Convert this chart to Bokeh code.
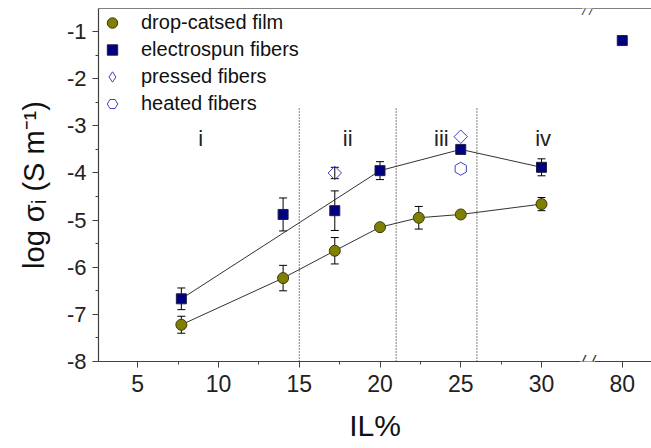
import math
from bokeh.plotting import figure
from bokeh.models import (FixedTicker, LinearAxis, Whisker, ColumnDataSource, Label,
                          Legend, LegendItem, TeeHead, Range1d)
from bokeh.embed import file_html
from bokeh.resources import INLINE
from bokeh.core.properties import value

# ---------------- data ----------------
film_il = [7.7, 14.0, 17.2, 20.0, 22.4, 25.0, 30.0]
film_log = [-7.22, -6.23, -5.65, -5.15, -4.95, -4.88, -4.66]
film_err = [0.18, 0.27, 0.28, 0.04, 0.24, 0.03, 0.14]

fiber_il = [7.7, 14.0, 17.2, 20.0, 25.0, 30.0, 80.0]
fiber_log = [-6.67, -4.88, -4.80, -3.95, -3.50, -3.88, -1.19]
fiber_err = [0.23, 0.35, 0.42, 0.19, 0.03, 0.18, 0.0]
fiber_guide_idx = [0, 3, 4, 5]

pressed_il = [17.2, 25.0]
pressed_log = [-4.00, -3.23]
pressed_err = [0.12, 0.0]

heated_il = [25.0]
heated_log = [-3.91]

region_bounds = [15, 21, 26]
region_top = -2.6
region_names = ["i", "ii", "iii", "iv"]
region_name_x = [8.9, 18.0, 23.8, 30.1]
region_name_y = -3.27

x_ticks = [5, 10, 15, 20, 25, 30, 80]
x_minor = [7.5, 12.5, 17.5, 22.5, 27.5]
y_ticks = [-8, -7, -6, -5, -4, -3, -2, -1]
y_minor = [-7.5, -6.5, -5.5, -4.5, -3.5, -2.5, -1.5]

# axis break: values above 30 are shown after the break, 80 sits at 35
BREAK_AFTER = 30
BREAK_VALUE = 80
BREAK_POS = 35
BREAK_MARK = 32.85


def xmap(v):
    return v if v <= BREAK_AFTER else BREAK_POS + (v - BREAK_VALUE)


FONT = "Liberation Sans"
AX = "#404040"
OPEN_BLUE = "#4040c8"

p = figure(width=651, height=448, x_range=Range1d(2.57, 36.81), y_range=Range1d(-8, -0.51),
           output_backend="svg", toolbar_location=None,
           min_border_left=98, min_border_right=0, min_border_top=8, min_border_bottom=87)
p.xgrid.visible = False
p.ygrid.visible = False
p.outline_line_color = None
p.background_fill_color = "white"
p.border_fill_color = "white"

# axes
xa = p.xaxis[0]
xa.ticker = FixedTicker(ticks=[xmap(t) for t in x_ticks], minor_ticks=x_minor)
xa.major_label_overrides = {xmap(t): str(t) for t in x_ticks}
ya = p.yaxis[0]
ya.ticker = FixedTicker(ticks=y_ticks, minor_ticks=y_minor)
ya.major_label_overrides = {t: str(t) for t in y_ticks}
for a in (xa, ya):
    a.axis_line_color = AX
    a.axis_line_width = 1.2
    a.major_tick_line_color = AX
    a.minor_tick_line_color = AX
    a.major_tick_in = 0
    a.major_tick_out = 6
    a.minor_tick_in = 0
    a.minor_tick_out = 3
    a.major_label_text_font = FONT
    a.major_label_text_color = "#222222"
    a.axis_label_text_font = FONT
    a.axis_label_text_font_style = "normal"
    a.axis_label_text_color = "#111111"
xa.major_label_text_font_size = "23px"
ya.major_label_text_font_size = "22px"
xa.major_label_standoff = 7
ya.major_label_standoff = 6
xa.axis_label = "IL%"
xa.axis_label_text_font_size = "30px"
xa.axis_label_standoff = 14
ya.axis_label = "log σᵢ (S m⁻¹)"
ya.axis_label_text_font_size = "29px"
ya.axis_label_standoff = 14

top = LinearAxis(ticker=FixedTicker(ticks=[]), major_label_text_font_size="0px",
                 axis_line_color="#808080", axis_line_width=1.2,
                 major_tick_line_color=None, minor_tick_line_color=None)
p.add_layout(top, "above")

# region separators and names
p.segment(x0=region_bounds, y0=[-8] * 3, x1=region_bounds, y1=[region_top] * 3,
          line_color="black", line_width=1, line_dash="1 2")
p.text(x=region_name_x, y=[region_name_y] * 4, text=region_names, text_align="center",
       text_baseline="alphabetic", text_font=value(FONT), text_font_size="22px",
       text_color="#222222")

# guide lines
p.line([xmap(v) for v in film_il], film_log, line_color="#333333", line_width=1)
p.line([xmap(fiber_il[i]) for i in fiber_guide_idx], [fiber_log[i] for i in fiber_guide_idx],
       line_color="#333333", line_width=1)


def add_err(xs, ys, es):
    src = ColumnDataSource(dict(x=[xmap(v) for v in xs],
                                upper=[y + e for y, e in zip(ys, es)],
                                lower=[y - e for y, e in zip(ys, es)]))
    w = Whisker(source=src, base="x", upper="upper", lower="lower", dimension="height",
                line_color="black", line_width=1,
                upper_head=TeeHead(size=8, line_color="black", line_width=1),
                lower_head=TeeHead(size=8, line_color="black", line_width=1))
    p.add_layout(w)


add_err(film_il, film_log, film_err)
add_err(fiber_il[:-1], fiber_log[:-1], fiber_err[:-1])
add_err(pressed_il[:1], pressed_log[:1], pressed_err[:1])

r_film = p.scatter([xmap(v) for v in film_il], film_log, marker="circle", size=11,
                   fill_color="#808000", line_color="#3a3a10", line_width=1)
r_fiber = p.scatter([xmap(v) for v in fiber_il], fiber_log, marker="square", size=10,
                    fill_color="#000080", line_color="#202040", line_width=1)
r_press = p.scatter([xmap(v) for v in pressed_il], pressed_log, marker="square", size=9.5,
                    angle=math.pi / 4, fill_color=None, line_color=OPEN_BLUE, line_width=1)
r_heat = p.scatter([xmap(v) for v in heated_il], heated_log, marker="hex", size=13,
                   angle=math.pi / 2, fill_color=None, line_color=OPEN_BLUE, line_width=1)

# legend stand-in for the pressed points (zero size on the plot, diamond in the legend)
lg_press = p.scatter([xmap(v) for v in pressed_il], pressed_log, marker="diamond", size=0,
                     fill_color=None, line_color=OPEN_BLUE, line_width=1)

legend = Legend(items=[LegendItem(label="drop-catsed film", renderers=[r_film]),
                       LegendItem(label="electrospun fibers", renderers=[r_fiber]),
                       LegendItem(label="pressed fibers", renderers=[lg_press]),
                       LegendItem(label="heated fibers", renderers=[r_heat])],
                location="top_left", border_line_color=None, background_fill_alpha=0,
                label_text_font=FONT, label_text_font_size="20px", label_text_color="#111111",
                glyph_width=26, glyph_height=27, label_height=27, spacing=0,
                padding=0, margin=1, label_standoff=16)
p.add_layout(legend)

# axis break marks
for yb, fs, off in ((-8, "18px", 0), (-0.51, "13px", -2)):
    p.add_layout(Label(x=BREAK_MARK, y=yb, y_offset=off, text="/ /", text_align="center",
                       text_baseline="middle", text_font=FONT, text_font_size=fs,
                       text_font_style="italic", text_color="#333333",
                       background_fill_color="white"))

open("out.html", "w").write(file_html(p, INLINE))
